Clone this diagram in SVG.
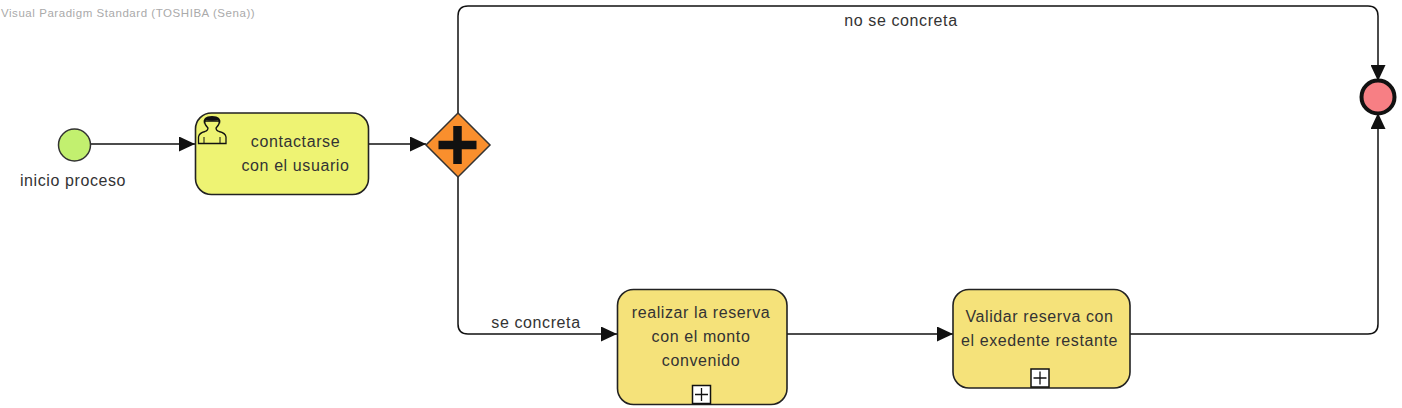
<svg xmlns="http://www.w3.org/2000/svg" width="1402" height="408" viewBox="0 0 1402 408">
<style>
text{font-family:"Liberation Sans",Arial,sans-serif;font-size:16px;letter-spacing:.6px;fill:#333;text-anchor:middle}
text.wm{font-size:11.500px;letter-spacing:.55px;fill:#aaa;text-anchor:start}
.c{fill:none;stroke:#111;stroke-width:1.5}
.task{stroke:#222;stroke-width:1.6}
</style>
<defs>
<marker id="a" viewBox="0 0 16 15" refX="16" refY="7.500" markerWidth="16" markerHeight="15" markerUnits="userSpaceOnUse" orient="auto"><path d="M0 0L16 7.500L0 15Z" fill="#111"/></marker>
<g id="sub"><rect x="-9" y="-9" width="18" height="18" fill="#fff" stroke="#111" stroke-width="1.500"/><path d="M-6.500 0H6.500M0-6.500V6.500" stroke="#111" stroke-width="1.300"/></g>
</defs>
<rect width="1402" height="408" fill="#fff"/>
<text class="wm" x="1" y="17">Visual Paradigm Standard (TOSHIBA (Sena))</text>
<g id="connectors">
<path class="c" d="M91 144H195" marker-end="url(#a)"/>
<path class="c" d="M369 144H426" marker-end="url(#a)"/>
<path class="c" d="M458 113V16Q458 6 468 6H1368Q1378 6 1378 16V81" marker-end="url(#a)"/>
<path class="c" d="M458 177V324Q458 334 468 334H617" marker-end="url(#a)"/>
<path class="c" d="M787 334H953" marker-end="url(#a)"/>
<path class="c" d="M1130 334H1368Q1378 334 1378 324V113" marker-end="url(#a)"/>
<text x="901" y="26">no se concreta</text>
<text x="536" y="328">se concreta</text>
</g>
<g id="start"><circle cx="74.500" cy="145" r="16" fill="#c2f06f" stroke="#333" stroke-width="1.500"/><text x="73" y="186">inicio proceso</text></g>
<g id="task-contactarse">
<rect class="task" x="195.500" y="113" width="173" height="81.500" rx="16" fill="#eef373"/>
<path d="M198.500 143.500V137Q199 133 205 131.500Q208 130.500 208 128Q204.500 125 204.500 121H219.500Q219.500 125 216 128Q216 130.500 219 131.500Q225.500 133 226 137V143.500Z" fill="#eef373" stroke="#111" stroke-width="1.300"/>
<path d="M204 124Q202 116 212 116Q222 116 220 124L218 120Q212 121.500 206 120Z" fill="#111"/>
<path d="M204 143.500V137M220 143.500V137" stroke="#111" stroke-width="1"/>
<text x="295.500" y="147">contactarse</text><text x="295.500" y="171">con el usuario</text>
</g>
<g id="gateway"><path d="M458 113L490 145L458 177L426 145Z" fill="#f98f2d" stroke="#333" stroke-width="1.500"/><path d="M457.500 126V164M438.500 145H476.500" stroke="#111" stroke-width="8.500" fill="none"/></g>
<g id="end"><circle cx="1378" cy="97" r="16.500" fill="#f77f84" stroke="#111" stroke-width="4"/></g>
<g id="task-realizar">
<rect class="task" x="617.500" y="289.500" width="169.500" height="115" rx="16" fill="#f5e27a"/>
<text x="701" y="318">realizar la reserva</text><text x="701" y="342">con el monto</text><text x="701" y="366">convenido</text>
<use href="#sub" x="701.500" y="394.500"/>
</g>
<g id="task-validar">
<rect class="task" x="953" y="289.500" width="177" height="98.500" rx="16" fill="#f5e27a"/>
<text x="1039.500" y="322">Validar reserva con</text><text x="1039.500" y="346">el exedente restante</text>
<use href="#sub" x="1040" y="378"/>
</g>
</svg>
